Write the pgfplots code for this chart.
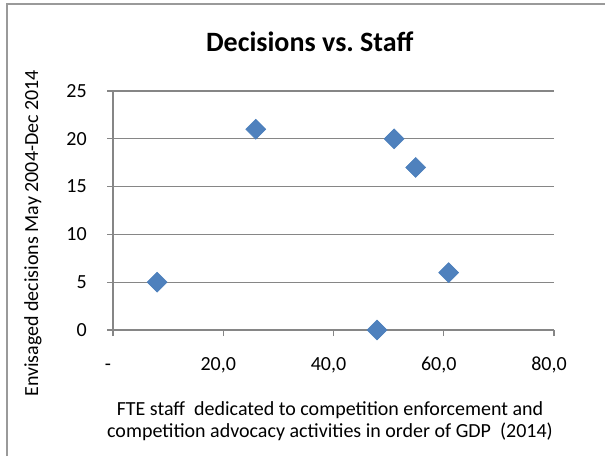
\documentclass[border=0pt]{standalone}
\usepackage{pgfplots}
\pgfplotsset{compat=1.18}
\usepackage{fontspec}
\setmainfont{Carlito}
\definecolor{mk}{HTML}{4F81BD}
\definecolor{mkedge}{HTML}{4A7EBB}
\definecolor{gridc}{HTML}{868686}
\definecolor{bordc}{HTML}{9A9A9A}
\begin{document}
\frenchspacing
\begin{tikzpicture}
\path[use as bounding box] (0,0) rectangle (453.75pt,342pt);
\draw[bordc, line width=1.5pt] (5.25pt,0) -- (5.25pt,339pt) -- (453.75pt,339pt);
\begin{axis}[
  at={(84.75pt,94.5pt)}, anchor=south west, scale only axis,
  width=330.75pt, height=179.25pt,
  xmin=0, xmax=80, ymin=0, ymax=25,
  axis x line*=bottom, axis y line*=left,
  xtick={0,20,40,60,80},
  xticklabels={{-\hspace{7.5pt}},{20,0},{40,0},{60,0},{80,0}},
  ytick={0,5,10,15,20,25},
  yticklabels={0,5,10,15,20,25},
  ymajorgrids,
  major grid style={gridc, line width=0.9pt},
  axis line style={gridc, line width=0.9pt},
  tick style={gridc, line width=0.9pt},
  major tick length=4.5pt,
  tick align=outside,
  xticklabel style={font=\fontsize{15}{18}\selectfont, anchor=base, yshift=-25.5pt, xshift=-3.75pt},
  yticklabel style={font=\fontsize{15}{18}\selectfont, anchor=east, inner sep=0pt, xshift=-15pt},
  clip=false,
]
\addplot[only marks, mark=square*, mark size=5.3pt,
  mark options={rotate=45, fill=mk, draw=mkedge}]
  coordinates {(8,5) (25.9,21) (47.9,0) (51,20) (54.9,17) (60.9,6)};
\end{axis}
\node[anchor=base, font=\fontsize{21}{25}\selectfont\bfseries] at (232.3pt,303pt) {Decisions vs.\ Staff};
\node[anchor=base, font=\fontsize{15}{18}\selectfont] at (247.5pt,30.5pt) {FTE staff\ \ dedicated to competition enforcement and};
\node[anchor=base, font=\fontsize{15}{18}\selectfont] at (247.5pt,14pt) {competition advocacy activities in order of GDP\ \ (2014)};
\node[anchor=base, rotate=90, font=\fontsize{15}{18}\selectfont] at (28.5pt,167pt) {Envisaged decisions May 2004-Dec 2014};
\end{tikzpicture}
\end{document}
